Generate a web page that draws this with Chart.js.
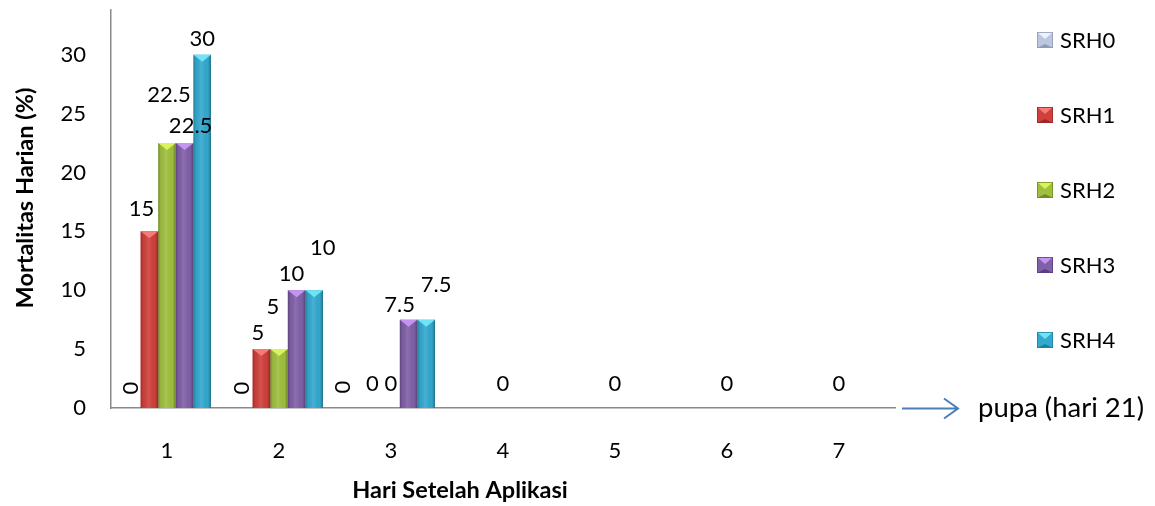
<!DOCTYPE html>
<html>
<head>
<meta charset="utf-8">
<script src="https://cdn.jsdelivr.net/npm/chart.js@4.4.1/dist/chart.umd.min.js"></script>
<style>
  html, body { margin: 0; padding: 0; background: #ffffff; }
  #wrap { width: 1155px; height: 506px; }
</style>
</head>
<body>
<div id="wrap"><canvas id="chart" width="1155" height="506"></canvas></div>
<script>
// Daily mortality (%) per treatment, days after application
const days = ['1', '2', '3', '4', '5', '6', '7'];
const seriesNames = ['SRH0', 'SRH1', 'SRH2', 'SRH3', 'SRH4'];
const srh0 = [0, 0, 0, 0, 0, 0, 0];
const srh1 = [15, 5, 0, 0, 0, 0, 0];
const srh2 = [22.5, 5, 0, 0, 0, 0, 0];
const srh3 = [22.5, 10, 7.5, 0, 0, 0, 0];
const srh4 = [30, 10, 7.5, 0, 0, 0, 0];
const yTickValues = [0, 5, 10, 15, 20, 25, 30];
const xTitle = 'Hari Setelah Aplikasi';
const yTitle = 'Mortalitas Harian (%)';
const noteText = 'pupa (hari 21)';

// Fill colours: base, light top facet, dark edge
const seriesColors = ['#bcc6de', '#d0403b', '#9fc03e', '#8060a8', '#33a9cf'];
const seriesLight  = ['#eef1f8', '#f57a78', '#dcf25a', '#c495f0', '#6ee4f4'];
const seriesDark   = ['#8f9ab8', '#9a2a26', '#6f8d24', '#5a3f80', '#1f7fa0'];

// Hand-placed value labels: [dx, dy, rotated] from the bar's top centre
const labelNudge = [
  [[-1, -20, true], [-8, -22], [2, -48], [6, -17], [0, -16]],
  [[-1.5, -20, true], [-3.5, -16], [-6, -42], [-5, -16], [8.5, -42]],
  [[-13, -21, true], [-1, -24], [0, -24], [-9, -15], [10, -35]],
  [null, null, [0, -24], null, null],
  [null, null, [0, -24], null, null],
  [null, null, [0, -24], null, null],
  [null, null, [0, -24], null, null]
];

const FONT = 'Lato, "Open Sans", sans-serif';
const TEXT_SIZE = 22;
const TITLE_SIZE = 23.5;

const seriesData = [srh0, srh1, srh2, srh3, srh4];
const datasets = seriesNames.map((name, i) => ({
  label: name,
  data: seriesData[i],
  backgroundColor: seriesColors[i],
  borderWidth: 0,
  categoryPercentage: 0.786,
  barPercentage: 1.0
}));

// Bevelled bar look: side shading plus a light facet on top
const bevelPlugin = {
  id: 'bevel',
  afterDatasetsDraw(chart) {
    const ctx = chart.ctx;
    chart.data.datasets.forEach((ds, di) => {
      const meta = chart.getDatasetMeta(di);
      meta.data.forEach((bar) => {
        const h = bar.base - bar.y;
        if (h <= 0.5) return;
        const left = bar.x - bar.width / 2;
        const right = bar.x + bar.width / 2;
        ctx.save();
        const g = ctx.createLinearGradient(left, 0, right, 0);
        g.addColorStop(0, 'rgba(0,0,0,0.28)');
        g.addColorStop(0.14, 'rgba(0,0,0,0.05)');
        g.addColorStop(0.45, 'rgba(255,255,255,0.10)');
        g.addColorStop(0.82, 'rgba(0,0,0,0.02)');
        g.addColorStop(1, 'rgba(0,0,0,0.32)');
        ctx.fillStyle = g;
        ctx.fillRect(left, bar.y, bar.width, h);
        // top facet
        const fh = Math.min(7, h);
        ctx.beginPath();
        ctx.moveTo(left, bar.y);
        ctx.lineTo(right, bar.y);
        ctx.lineTo(bar.x, bar.y + fh);
        ctx.closePath();
        ctx.fillStyle = seriesLight[di];
        ctx.fill();
        ctx.restore();
      });
    });
  }
};

// Value labels next to each bar
const valueLabelPlugin = {
  id: 'valueLabels',
  afterDatasetsDraw(chart) {
    const ctx = chart.ctx;
    ctx.save();
    ctx.font = TEXT_SIZE + 'px ' + FONT;
    ctx.fillStyle = '#000000';
    ctx.textAlign = 'center';
    ctx.textBaseline = 'middle';
    chart.data.datasets.forEach((ds, di) => {
      const meta = chart.getDatasetMeta(di);
      meta.data.forEach((bar, ci) => {
        const nudge = labelNudge[ci] && labelNudge[ci][di];
        if (!nudge) return;
        const x = bar.x + nudge[0];
        const y = bar.y + nudge[1];
        const txt = String(ds.data[ci]);
        if (nudge[2]) {
          ctx.save();
          ctx.translate(x, y);
          ctx.rotate(-Math.PI / 2);
          ctx.fillText(txt, 0, 0);
          ctx.restore();
        } else {
          ctx.fillText(txt, x, y);
        }
      });
    });
    ctx.restore();
  }
};

// Axis titles, legend column on the right and the pupa note with its arrow
const sideNotesPlugin = {
  id: 'sideNotes',
  afterDraw(chart) {
    const ctx = chart.ctx;
    const area = chart.chartArea;
    ctx.save();
    // axis titles
    ctx.fillStyle = '#000000';
    ctx.font = 'bold ' + TITLE_SIZE + 'px ' + FONT;
    ctx.textAlign = 'center';
    ctx.textBaseline = 'middle';
    ctx.fillText(xTitle, 460, 490);
    ctx.save();
    ctx.translate(25, 198);
    ctx.rotate(-Math.PI / 2);
    ctx.fillText(yTitle, 0, 0);
    ctx.restore();
    // legend
    const boxX = 1037, box = 16, textX = 1060;
    const rowY = [40, 115, 190, 265, 340];
    ctx.font = TEXT_SIZE + 'px ' + FONT;
    ctx.textBaseline = 'middle';
    ctx.textAlign = 'left';
    chart.data.datasets.forEach((ds, i) => {
      const cy = rowY[i];
      const top = cy - box / 2;
      ctx.fillStyle = seriesColors[i];
      ctx.fillRect(boxX, top, box, box);
      ctx.beginPath();
      ctx.moveTo(boxX, top); ctx.lineTo(boxX + box, top); ctx.lineTo(boxX + box / 2, top + 7); ctx.closePath();
      ctx.fillStyle = seriesLight[i]; ctx.fill();
      ctx.beginPath();
      ctx.moveTo(boxX, top + box); ctx.lineTo(boxX + box, top + box); ctx.lineTo(boxX + box / 2, top + box - 4); ctx.closePath();
      ctx.fillStyle = seriesDark[i]; ctx.fill();
      ctx.strokeStyle = seriesDark[i]; ctx.lineWidth = 0.8;
      ctx.strokeRect(boxX + 0.4, top + 0.4, box - 0.8, box - 0.8);
      ctx.fillStyle = '#000000';
      ctx.fillText(ds.label, textX, cy + 1);
    });
    // arrow after the x axis
    const ay = area.bottom + 0.5;
    const ax0 = 902, ax1 = 958;
    ctx.strokeStyle = '#4a7ebb';
    ctx.lineWidth = 2;
    ctx.beginPath();
    ctx.moveTo(ax0, ay); ctx.lineTo(ax1, ay);
    ctx.moveTo(ax1 - 14, ay - 10); ctx.lineTo(ax1, ay); ctx.lineTo(ax1 - 14, ay + 10);
    ctx.stroke();
    ctx.fillStyle = '#000000';
    ctx.font = '27.5px ' + FONT;
    ctx.textBaseline = 'middle';
    ctx.fillText(noteText, 978, ay);
    ctx.restore();
  }
};

new Chart(document.getElementById('chart'), {
  type: 'bar',
  data: { labels: days, datasets },
  options: {
    responsive: false,
    animation: false,
    layout: { padding: { left: 0, right: 260, top: 10, bottom: 0 } },
    plugins: { legend: { display: false }, tooltip: { enabled: false } },
    scales: {
      x: {
        grid: { display: false, drawTicks: false },
        border: { display: true, color: '#8a8a8a', width: 1.5 },
        ticks: { color: '#000000', font: { family: FONT, size: TEXT_SIZE }, padding: 30 },
        afterFit(scale) { scale.height = 98; scale.paddingLeft = 0; scale.paddingRight = 0; }
      },
      y: {
        min: 0,
        max: 33.8,
        grid: { display: false, drawTicks: false },
        border: { display: true, color: '#8a8a8a', width: 1.5 },
        ticks: { color: '#000000', font: { family: FONT, size: TEXT_SIZE }, padding: 25 },
        afterBuildTicks(scale) { scale.ticks = yTickValues.map(v => ({ value: v })); },
        afterFit(scale) { scale.width = 111; scale.paddingTop = 0; scale.paddingBottom = 0; }
      }
    }
  },
  plugins: [bevelPlugin, valueLabelPlugin, sideNotesPlugin]
});
</script>
</body>
</html>
